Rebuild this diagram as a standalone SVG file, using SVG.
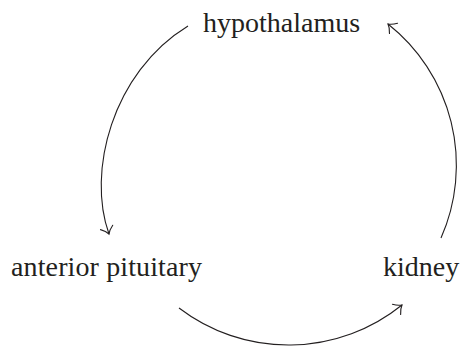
<svg xmlns="http://www.w3.org/2000/svg" width="461" height="347" viewBox="0 0 461 347">
<style>
  .lbl { font-family: "Liberation Serif", "Times New Roman", serif; font-size: 28px; fill: #231f20; }
  .edge { fill: none; stroke: #231f20; stroke-width: 1.1; }
</style>
<defs>
  <marker id="to" markerUnits="userSpaceOnUse" markerWidth="20" markerHeight="20" viewBox="-10 -10 20 20" refX="0" refY="0" orient="auto" overflow="visible">
    <path d="M-7,-6.5 C-4.5,-3 -1.8,-0.9 0,0 C-1.8,0.9 -4.5,3 -7,6.5" fill="none" stroke="#231f20" stroke-width="1.1" stroke-linecap="round"/>
  </marker>
</defs>
<rect width="461" height="347" fill="#ffffff"/>
<g id="connectors">
  <path class="edge" d="M188,26 C111.5,72.8 86.9,172.9 109,234" marker-end="url(#to)"/>
  <path class="edge" d="M179,308 A180.6,180.6 0 0 0 402,305" marker-end="url(#to)"/>
  <path class="edge" d="M441,238 A180,180 0 0 0 388,24" marker-end="url(#to)"/>
</g>
<g id="hypothalamus"><text class="lbl" x="203" y="32">hypothalamus</text></g>
<g id="anterior-pituitary"><text class="lbl" x="11" y="276" textLength="191" lengthAdjust="spacing">anterior pituitary</text></g>
<g id="kidney"><text class="lbl" x="383" y="276">kidney</text></g>
</svg>
